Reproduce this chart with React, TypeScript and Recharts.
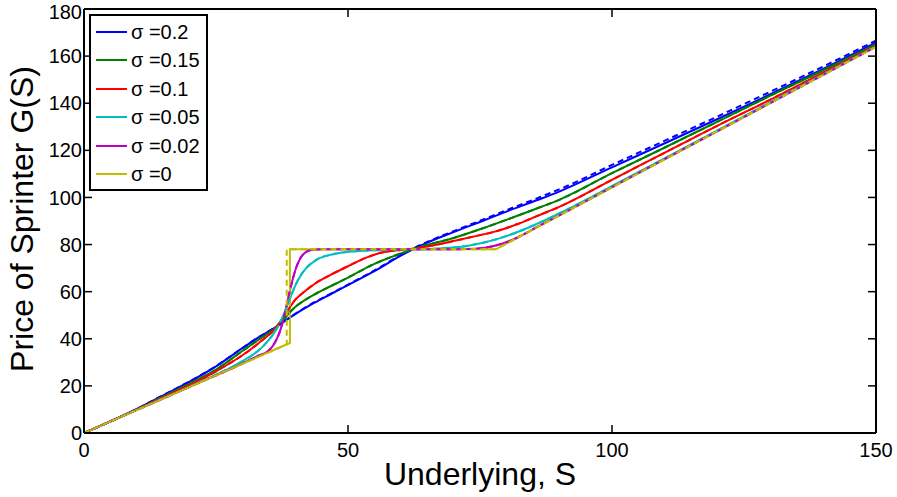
import React from 'react';
import { LineChart, Line, XAxis, YAxis, Legend, Label } from 'recharts';

// ---- tick labels / categories ----
const xTicks = [0, 50, 100, 150];
const yTicks = [0, 20, 40, 60, 80, 100, 120, 140, 160, 180];
const seriesLabels = ['σ =0.2', 'σ =0.15', 'σ =0.1', 'σ =0.05', 'σ =0.02', 'σ =0'];
const seriesColors = ['#0000FF', '#008000', '#FF0000', '#00BFBF', '#BF00BF', '#BFBF00'];

// ---- σ = 0.2 ----
const sBlue = [0, 10, 15, 20, 25, 30, 33, 36.5, 40, 43, 46.6, 50, 55, 60, 62.3, 65, 70, 75, 80, 86, 90, 100, 110, 120, 130, 140, 150];
const gBlue = [0, 10.2, 16, 21.8, 28.3, 36, 40.5, 45.2, 50.5, 54.5, 58.8, 62.8, 68.7, 75.3, 78, 80.8, 85.3, 89.6, 94, 99, 102.5, 112.8, 123, 133.3, 143.8, 154.6, 165.8];
const gBlueMC = [0, 10.2, 16.1, 21.9, 28.4, 36.1, 40.6, 45.3, 50.6, 54.7, 59, 63, 69, 75.6, 78.3, 81.1, 85.7, 90.1, 94.6, 99.8, 103.4, 113.8, 124.1, 134.4, 144.9, 155.6, 166.6];

// ---- σ = 0.15 ----
const sGreen = [0, 10, 15, 20, 25, 30, 33, 36.5, 40, 43, 46.6, 50, 55, 60, 62.3, 65, 70, 75, 80, 86, 90, 100, 110, 120, 130, 140, 150];
const gGreen = [0, 10, 15.6, 21, 26.9, 34.8, 39.5, 45.2, 53.5, 58, 62.2, 66, 71.8, 76.2, 78, 79.8, 82.8, 86.5, 90.5, 95.5, 99, 110.3, 121.2, 132.2, 143.2, 154, 165];

// ---- σ = 0.1 ----
const sRed = [0, 10, 15, 20, 25, 30, 33, 36.5, 38, 40, 42, 44, 46.6, 50, 53, 56, 60, 62.3, 65, 70, 75, 78, 82, 86, 90, 100, 110, 120, 130, 140, 150];
const gRed = [0, 9.9, 15.2, 20.4, 26.2, 33, 38, 45.2, 50, 56.5, 60.5, 63.8, 67, 70.8, 74, 76.4, 77.7, 78.2, 79.2, 81.5, 84, 85.6, 88.6, 92.3, 96, 107.5, 119, 130.5, 141.5, 153, 164.6];

// ---- σ = 0.05 ----
const sCyan = [0, 10, 20, 25, 28, 30, 32, 34, 36, 37, 38, 39, 40, 41, 42, 44, 47, 50, 55, 60, 65, 70, 73, 76, 80, 85, 90, 95, 100, 110, 120, 150];
const gCyan = [0, 9.8, 19.7, 24.8, 28, 30.5, 33.2, 37, 42.5, 46.3, 51.2, 57, 62.5, 66.8, 69.8, 73.5, 75.8, 76.9, 77.6, 77.9, 78.1, 78.7, 79.6, 81, 83.6, 88, 93.2, 98.9, 104.8, 116.6, 128.5, 164.2];

// ---- σ = 0.02 ----
const sMagenta = [0, 10, 20, 30, 33, 35, 36, 37, 37.5, 38, 38.5, 39, 39.5, 40, 41, 42, 43, 45, 50, 60, 70, 74, 76, 78, 80, 83, 86, 90, 100, 120, 150];
const gMagenta = [0, 9.8, 19.6, 29.5, 32.8, 35, 37.8, 42.5, 46, 50.5, 55.5, 60.5, 65, 69, 74.3, 76.8, 77.7, 78, 78, 78, 78, 78.2, 78.7, 79.6, 81, 84, 87.7, 92.4, 104.4, 128.2, 164];

// ---- σ = 0 ----
const sYellow = [0, 39, 39, 78, 150];
const gYellow = [0, 38.2, 78, 78, 164];
const sYellowMC = [0, 38.4, 38.4, 78, 150];
const gYellowMC = [0, 37.6, 78, 78, 164];

const toData = (s: number[], g: number[]) => s.map((v, i) => ({ s: v, g: g[i] }));

const solidSeries = [
  toData(sBlue, gBlue),
  toData(sGreen, gGreen),
  toData(sRed, gRed),
  toData(sCyan, gCyan),
  toData(sMagenta, gMagenta),
  toData(sYellow, gYellow),
];
const dashedSeries = [
  toData(sBlue, gBlueMC),
  toData(sGreen, gGreen),
  toData(sRed, gRed),
  toData(sCyan, gCyan),
  toData(sMagenta, gMagenta),
  toData(sYellowMC, gYellowMC),
];

const FONT = '"Liberation Sans", Arial, Helvetica, sans-serif';

const LegendBox = () => (
  <div
    style={{
      boxSizing: 'border-box',
      width: 119,
      height: 177,
      border: '2px solid #000',
      background: '#fff',
      paddingTop: 1.5,
      fontFamily: FONT,
      fontSize: 20,
      color: '#000',
    }}
  >
    {seriesLabels.map((lab, i) => (
      <div key={lab} style={{ height: 28.5, display: 'flex', alignItems: 'center' }}>
        <div style={{ width: 31, height: 2, marginLeft: 5, marginRight: 4, background: seriesColors[i] }} />
        <span style={{ whiteSpace: 'nowrap', lineHeight: '20px' }}>{lab}</span>
      </div>
    ))}
  </div>
);

const YTitle = (props: any) => {
  const vb = props.viewBox || {};
  const cx = vb.x + 33;
  const cy = vb.y + vb.height / 2 - 2;
  return (
    <text
      x={cx}
      y={cy}
      transform={`rotate(-90 ${cx} ${cy})`}
      textAnchor="middle"
      fontFamily={FONT}
      fontSize={32}
      fill="#000"
    >
      Price of Sprinter G(S)
    </text>
  );
};

export default function App() {
  const tickStyle = { fill: '#000', fontSize: 20, fontFamily: FONT };
  const axisLine = { stroke: '#000', strokeWidth: 2 };
  const tickLine = { stroke: '#000', strokeWidth: 1.5 };
  return (
    <div style={{ position: 'absolute', left: 0, top: 0, background: '#fff' }}>
      <LineChart width={897} height={497} margin={{ top: 8, right: 20, bottom: 0, left: 0 }}>
        <XAxis
          xAxisId={0}
          type="number"
          dataKey="s"
          domain={[0, 150]}
          ticks={xTicks}
          allowDataOverflow
          height={64}
          tickSize={-8}
          tickMargin={18}
          tick={tickStyle}
          axisLine={axisLine}
          tickLine={tickLine}
        >
          <Label
            value="Underlying, S"
            position="insideBottom"
            offset={12}
            style={{ fontFamily: FONT, fontSize: 32, fill: '#000' }}
          />
        </XAxis>
        <XAxis
          xAxisId="top"
          orientation="top"
          type="number"
          dataKey="s"
          domain={[0, 150]}
          ticks={xTicks}
          allowDataOverflow
          height={1}
          tickSize={-8}
          tickFormatter={() => ''}
          axisLine={axisLine}
          tickLine={tickLine}
        />
        <YAxis
          yAxisId={0}
          type="number"
          domain={[0, 180]}
          ticks={yTicks}
          allowDataOverflow
          width={84}
          tickSize={-8}
          tickMargin={10}
          tick={tickStyle}
          axisLine={axisLine}
          tickLine={tickLine}
        >
          <Label content={<YTitle />} />
        </YAxis>
        <YAxis
          yAxisId="right"
          orientation="right"
          type="number"
          domain={[0, 180]}
          ticks={yTicks}
          allowDataOverflow
          width={1}
          tickSize={-8}
          tickFormatter={() => ''}
          axisLine={axisLine}
          tickLine={tickLine}
        />
        {solidSeries.map((d, i) => (
          <Line
            key={'solid' + i}
            data={d}
            dataKey="g"
            xAxisId={0}
            yAxisId={0}
            type={i === 5 ? 'linear' : 'monotone'}
            stroke={seriesColors[i]}
            strokeWidth={2}
            dot={false}
            isAnimationActive={false}
            legendType="none"
          />
        ))}
        {dashedSeries.map((d, i) => (
          <Line
            key={'dash' + i}
            data={d}
            dataKey="g"
            xAxisId={0}
            yAxisId={0}
            type={i === 5 ? 'linear' : 'monotone'}
            stroke={seriesColors[i]}
            strokeWidth={2}
            strokeDasharray="6 4"
            dot={false}
            isAnimationActive={false}
            legendType="none"
          />
        ))}
        <Legend
          layout="vertical"
          align="center"
          verticalAlign="middle"
          content={() => <LegendBox />}
          wrapperStyle={{ position: 'absolute', left: 89, top: 14, width: 119, height: 177 }}
        />
      </LineChart>
    </div>
  );
}
